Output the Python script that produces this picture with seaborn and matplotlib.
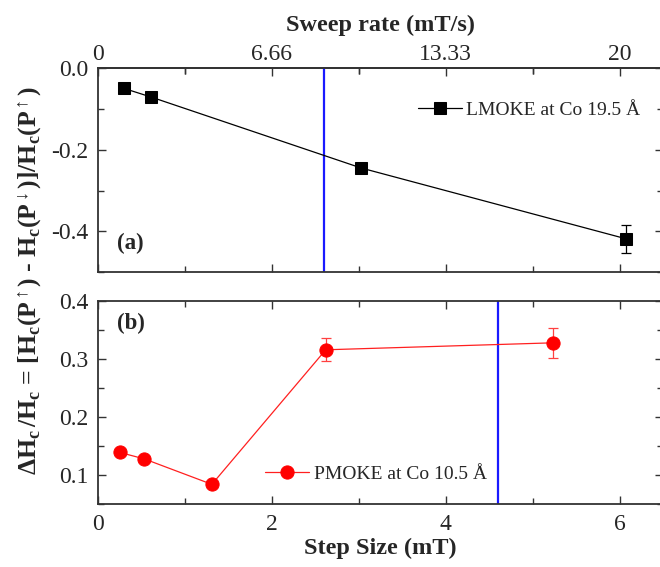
import numpy as np
import pandas as pd
import matplotlib
matplotlib.use("Agg")
import matplotlib.pyplot as plt
from matplotlib.ticker import MultipleLocator, FixedLocator
import seaborn as sns

# panel (a): LMOKE at Co 19.5 A
step_a = [0.30, 0.61, 3.03, 6.07]
dh_a = [-0.050, -0.071, -0.245, -0.418]
err_a = [0.0, 0.0, 0.0, 0.034]

# panel (b): PMOKE at Co 10.5 A
step_b = [0.25, 0.53, 1.31, 2.62, 5.23]
dh_b = [0.139, 0.128, 0.084, 0.316, 0.328]
err_b = [0.0, 0.0, 0.0, 0.020, 0.026]

vline_a = 2.60
vline_b = 4.60

sweep_ticks = [0, 6.66, 13.33, 20]
sweep_labels = ["0", "6.66", "13.33", "20"]

sns.set_style("ticks")
plt.rcParams['font.family'] = ['Liberation Serif', 'DejaVu Serif']
plt.rcParams['mathtext.fontset'] = 'custom'
plt.rcParams['mathtext.rm'] = 'Liberation Serif'
plt.rcParams['mathtext.bf'] = 'Liberation Serif:bold'
plt.rcParams['mathtext.it'] = 'Liberation Serif:italic'

TICK = 17
LAB = 17.5

fig = plt.figure(figsize=(6.6, 5.67), dpi=100)
ax1 = fig.add_axes([0.1485, 0.520, 0.856, 0.360])
ax2 = fig.add_axes([0.1485, 0.111, 0.856, 0.358])

df_a = pd.DataFrame({"step": step_a, "dh": dh_a})
df_b = pd.DataFrame({"step": step_b, "dh": dh_b})

sns.lineplot(data=df_a, x="step", y="dh", ax=ax1, color="black", lw=0.9,
             marker="s", markersize=8.5, markeredgecolor="black",
             label="LMOKE at Co 19.5 Å", zorder=3)
ax1.errorbar(step_a, dh_a, yerr=err_a, fmt="none", ecolor="black",
             elinewidth=0.9, capsize=3.5, capthick=0.9, zorder=2)

sns.lineplot(data=df_b, x="step", y="dh", ax=ax2, color="#ff2020", lw=0.9,
             marker="o", markersize=9.5, markerfacecolor="#ff0000",
             markeredgecolor="#ff0000", label="PMOKE at Co 10.5 Å", zorder=3)
ax2.errorbar(step_b, dh_b, yerr=err_b, fmt="none", ecolor="#ff4040",
             elinewidth=0.9, capsize=3.5, capthick=0.9, zorder=2)

ax1.axvline(vline_a, color="#1a1aff", lw=1.6, zorder=1)
ax2.axvline(vline_b, color="#1a1aff", lw=1.6, zorder=1)

for ax in (ax1, ax2):
    ax.set_xlim(0, 6.5)
    ax.xaxis.set_major_locator(MultipleLocator(2))
    ax.xaxis.set_minor_locator(MultipleLocator(1))
    ax.tick_params(which="both", direction="in", top=True, right=True,
                   labelsize=TICK, color="#333333", width=1.0, pad=7)
    ax.tick_params(which="major", length=6)
    ax.tick_params(which="minor", length=4)
    for s in ax.spines.values():
        s.set_linewidth(1.3)
        s.set_color("#333333")
    ax.set_xlabel("")
    ax.set_ylabel("")

ax1.set_ylim(-0.5, 0.0)
ax1.set_yticks([0.0, -0.2, -0.4])
ax1.set_yticklabels(["0.0", "-0.2", "-0.4"])
ax1.yaxis.set_minor_locator(MultipleLocator(0.1))
ax1.tick_params(axis="x", labelbottom=False, top=False)

ax2.set_ylim(0.05, 0.4)
ax2.set_yticks([0.1, 0.2, 0.3, 0.4])
ax2.set_yticklabels(["0.1", "0.2", "0.3", "0.4"])
ax2.yaxis.set_minor_locator(MultipleLocator(0.05))
ax2.set_xlabel("Step Size (mT)", fontsize=LAB, fontweight="bold", labelpad=2)

# top axis: sweep rate
sec = ax1.secondary_xaxis("top", functions=(lambda x: x * 10 / 3, lambda x: x * 3 / 10))
sec.xaxis.set_major_locator(FixedLocator(sweep_ticks))
sec.set_xticklabels(sweep_labels)
sec.xaxis.set_minor_locator(FixedLocator([3.33, 10, 16.67]))
sec.tick_params(which="both", direction="in", labelsize=TICK, color="#333333",
                width=1.0, pad=2.5)
sec.tick_params(which="major", length=6)
sec.tick_params(which="minor", length=4)
sec.spines["top"].set_linewidth(1.3)
sec.spines["top"].set_color("#333333")
sec.set_xlabel("Sweep rate (mT/s)", fontsize=LAB, fontweight="bold", labelpad=9)

ax1.legend(loc="center left", bbox_to_anchor=(0.566, 0.794), frameon=False,
           fontsize=14, handlelength=2.25, handletextpad=0.25,
           borderpad=0, borderaxespad=0)
ax2.legend(loc="center left", bbox_to_anchor=(0.296, 0.148), frameon=False,
           fontsize=14, handlelength=2.25, handletextpad=0.25,
           borderpad=0, borderaxespad=0)

ax1.text(0.034, 0.142, "(a)", transform=ax1.transAxes, fontsize=16.5,
         fontweight="bold", va="center", ha="left")
ax2.text(0.034, 0.89, "(b)", transform=ax2.transAxes, fontsize=16.5,
         fontweight="bold", va="center", ha="left")

ylab = (r"$\mathbf{\Delta H_c\,/H_c}$ = [$\mathbf{H_c}$(P$^{\uparrow}$) - "
        r"$\mathbf{H_c}$(P$^{\downarrow}$)]/$\mathbf{H_c}$(P$^{\uparrow}$)")
fig.text(0.046, 0.504, ylab, rotation=90, fontsize=18.5, fontweight="bold",
         ha="center", va="center")

fig.savefig("out.png", dpi=100)
